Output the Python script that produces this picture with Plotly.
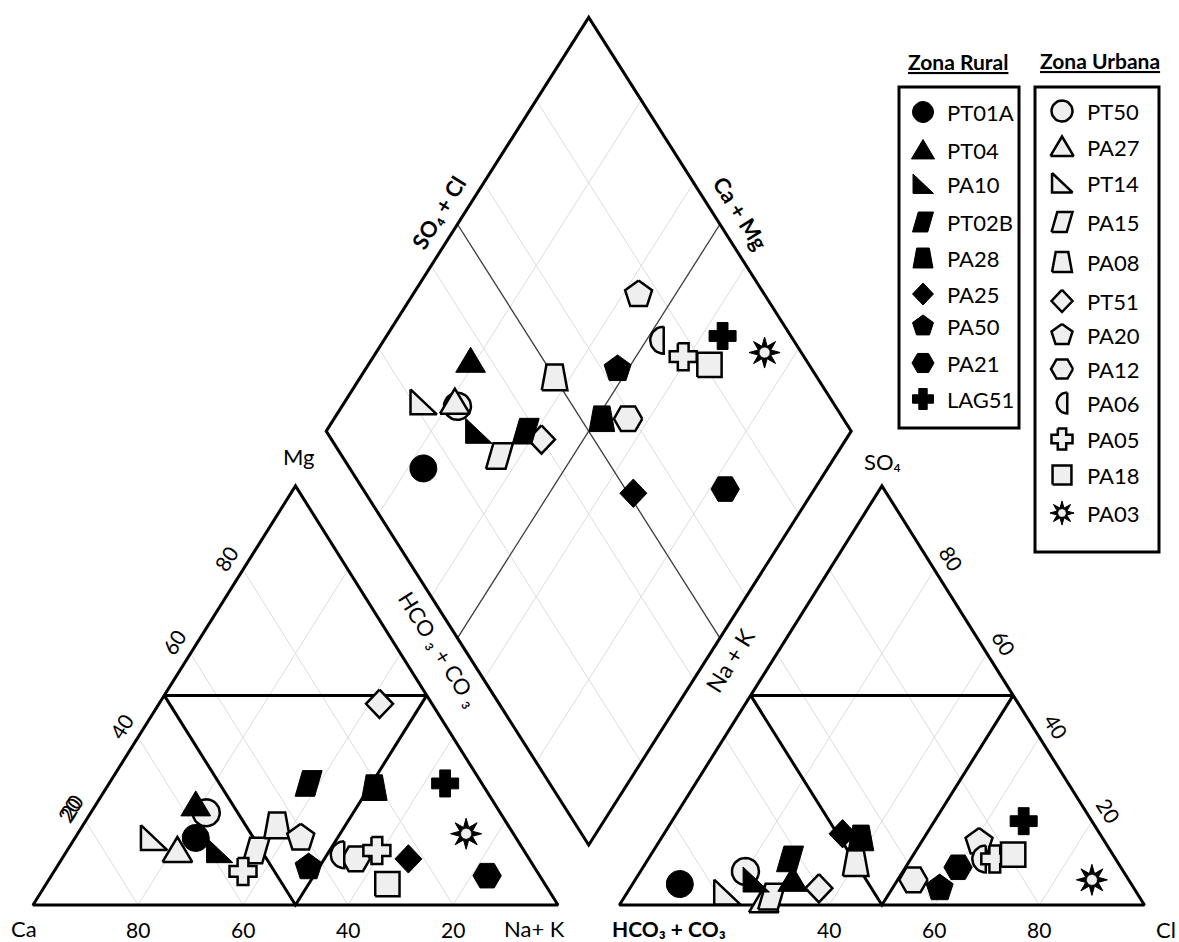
import math
import plotly.graph_objects as go

# ---------------- data (percent of meq/L) ----------------
samples = ["PT01A", "PT04", "PA10", "PT02B", "PA28", "PA25", "PA50", "PA21", "LAG51",
           "PT50", "PA27", "PT14", "PA15", "PA08", "PT51", "PA20", "PA12", "PA06", "PA05", "PA18", "PA03"]
zone = ["Rural"] * 9 + ["Urbana"] * 12
ca = [61, 57, 58, 33, 21, 23, 43, 10, 7, 56, 66, 69, 51, 44, 10, 41, 33, 36, 28, 30, 9]
mg = [16, 24, 13, 29, 28, 11, 9, 7, 29, 22, 13, 16, 13, 19, 48, 16, 11, 12, 13, 5, 17]
nak = [23, 19, 29, 38, 51, 66, 48, 83, 64, 22, 21, 15, 36, 37, 42, 43, 56, 52, 59, 65, 74]
hco3 = [86, 64, 71, 62, 46, 49, 37, 31, 13, 72, 72, 78, 70, 50, 60, 24, 41, 26, 23, 19, 7]
so4 = [5, 6, 6, 11, 16, 17, 4, 9, 20, 8, 1, 3, 2, 10, 4, 15, 6, 11, 11, 12, 6]
cl = [9, 30, 23, 27, 38, 34, 59, 60, 67, 20, 27, 19, 28, 40, 36, 61, 53, 63, 66, 69, 87]
# extra cation point plotted in the original (second PA05 cross)
extra_name = ["PA05"]
extra_ca = [56]
extra_mg = [8]
extra_nak = [36]

ticks = [20, 40, 60, 80]
cl_ticks = [40, 60, 80]

# ---------------- styles ----------------
shape_of = {"PT01A": "circle", "PT04": "triangle", "PA10": "rtri", "PT02B": "para", "PA28": "trap",
            "PA25": "diamond", "PA50": "pentagon", "PA21": "hexagon", "LAG51": "cross",
            "PT50": "circle", "PA27": "triangle", "PT14": "rtri", "PA15": "para", "PA08": "trap",
            "PT51": "diamond", "PA20": "pentagon", "PA12": "hexagon", "PA06": "half", "PA05": "cross",
            "PA18": "square", "PA03": "star"}
FONT = "Lato, Carlito, 'Liberation Sans', sans-serif"
GRID = "#dcdcdc"
URB_FILL = "#efefef"

# ---------------- geometry ----------------
W, HF = 1179, 942
SX, SY = 5.25, 4.84          # pixels per unit
X0PX, Y0PX = 33.0, 905.0
TH = 100 * math.sqrt(3) / 2
GAP = 11.7
RX0 = 100 + GAP
DX, DY, DW, DH = 100 + GAP / 2, 97.9, 50.0, 85.5


def px2u(px, py):
    return (px - X0PX) / SX, (Y0PX - py) / SY


def off(pt, dxp, dyp):
    return pt[0] + dxp / SX, pt[1] - dyp / SY


def tri(x0, right, top):
    return x0 + 100 * (right + top / 2), TH * top


def cation_xy(c, m, n):
    s = c + m + n
    return tri(0, n / s, m / s)


def anion_xy(h, s4, c_):
    t = h + s4 + c_
    return tri(RX0, c_ / t, s4 / t)


def dia(ss, cc):
    return DX + DW * (ss - cc), DY - DH + DH * (ss + cc)


def diamond_xy(c, m, n, h, s4, c_):
    cc = (c + m) / (c + m + n)
    ss = (s4 + c_) / (h + s4 + c_)
    return dia(ss, cc)


fig = go.Figure()


def add_path(segments, color, width):
    xs, ys = [], []
    for seg in segments:
        for (x, y) in seg:
            xs.append(x)
            ys.append(y)
        xs.append(None)
        ys.append(None)
    fig.add_trace(go.Scatter(x=xs, y=ys, mode="lines", line=dict(color=color, width=width),
                             hoverinfo="skip", showlegend=False))


# ---- grid lines ----
grid = []
for x0 in (0, RX0):
    for p in ticks:
        f = p / 100
        grid.append([tri(x0, f, 0), tri(x0, f, 1 - f)])
        grid.append([tri(x0, 1 - f, 0), tri(x0, 0, 1 - f)])
for p in ticks:
    f = p / 100
    grid.append([dia(f, 0), dia(f, 1)])
    grid.append([dia(0, f), dia(1, f)])
add_path(grid, GRID, 1)

# diamond 50 % lines
add_path([[dia(0.5, 0), dia(0.5, 1)], [dia(0, 0.5), dia(1, 0.5)]], "#3c3c3c", 1.3)

# ---- outlines ----
outl = []
inner = []
for x0 in (0, RX0):
    a, b, c = tri(x0, 0, 0), tri(x0, 1, 0), tri(x0, 0, 1)
    outl.append([a, b, c, a, b])
    m1, m2, m3 = tri(x0, 0, 0.5), tri(x0, 0.5, 0.5), tri(x0, 0.5, 0)
    inner.append([m1, m2, m3, m1, m2])
L, T, R, B = dia(0, 1), dia(1, 1), dia(1, 0), dia(0, 0)
outl.append([L, T, R, B, L, T])
add_path(inner, "black", 3)
add_path(outl, "black", 3)


# ---------------- marker shapes ----------------
def ngon(n, r=1.0, rot=90.0):
    return [(r * math.cos(math.radians(rot + 360 * k / n)), r * math.sin(math.radians(rot + 360 * k / n)))
            for k in range(n)]


SHAPES = {
    "circle": ngon(40, 1.0),
    "triangle": [(-1.1, -0.85), (1.1, -0.85), (0, 1.0)],
    "rtri": [(-0.95, 0.95), (-0.95, -0.9), (1.0, -0.9)],
    "para": [(-1.0, -0.95), (0.45, -0.95), (1.0, 0.95), (-0.45, 0.95)],
    "trap": [(-0.95, -0.95), (0.95, -0.95), (0.6, 0.95), (-0.6, 0.95)],
    "diamond": [(0, 1.05), (1.0, 0), (0, -1.05), (-1.0, 0)],
    "pentagon": ngon(5, 1.05, 90),
    "hexagon": ngon(6, 1.05, 0),
    "cross": [(-0.4, 1), (0.4, 1), (0.4, 0.4), (1, 0.4), (1, -0.4), (0.4, -0.4), (0.4, -1), (-0.4, -1),
              (-0.4, -0.4), (-1, -0.4), (-1, 0.4), (-0.4, 0.4)],
    "square": [(-0.9, -0.9), (0.9, -0.9), (0.9, 0.9), (-0.9, 0.9)],
    "half": [(0.5 + math.cos(math.radians(a)), math.sin(math.radians(a))) for a in range(90, 271, 10)],
    "star": [((1.15 if k % 2 == 0 else 0.5) * math.cos(math.radians(90 + 22.5 * k)),
              (1.15 if k % 2 == 0 else 0.5) * math.sin(math.radians(90 + 22.5 * k))) for k in range(16)],
}


def add_polys(centers_r, shape, fill, lw):
    xs, ys = [], []
    pts = SHAPES[shape]
    for (cx, cy, rpx) in centers_r:
        for (a, b) in pts + [pts[0]]:
            xs.append(cx + a * rpx / SX)
            ys.append(cy + b * rpx / SY)
        xs.append(None)
        ys.append(None)
    fig.add_trace(go.Scatter(x=xs, y=ys, mode="lines", fill="toself", fillcolor=fill,
                             line=dict(color="black", width=lw), hoverinfo="skip", showlegend=False))


R_PLOT = 13.5
R_LEG = 10.5
RUR_MX, RUR_TX = 923, 945
RUR_Y = [112, 150, 184, 222, 258, 294, 326, 363, 399]
URB_MX, URB_TX = 1062, 1085
URB_Y = [111, 147, 183, 222, 262, 301, 335, 369, 403, 439, 475, 513]

leg_pos = {}
ri = ui = 0
for i, nm in enumerate(samples):
    if zone[i] == "Rural":
        leg_pos[nm] = (RUR_MX, RUR_Y[ri], RUR_TX)
        ri += 1
    else:
        leg_pos[nm] = (URB_MX, URB_Y[ui], URB_TX)
        ui += 1

order = [i for i in range(len(samples)) if zone[i] == "Urbana"] + \
        [i for i in range(len(samples)) if zone[i] == "Rural"]
for i in order:
    nm = samples[i]
    shp = shape_of[nm]
    rural = zone[i] == "Rural"
    pts = [cation_xy(ca[i], mg[i], nak[i]), anion_xy(hco3[i], so4[i], cl[i]),
           diamond_xy(ca[i], mg[i], nak[i], hco3[i], so4[i], cl[i])]
    for j, en in enumerate(extra_name):
        if en == nm:
            pts.append(cation_xy(extra_ca[j], extra_mg[j], extra_nak[j]))
    cen = [(p[0], p[1], R_PLOT) for p in pts]
    lx, ly, _ = leg_pos[nm]
    lp = px2u(lx, ly)
    cen.append((lp[0], lp[1], R_LEG))
    if shp == "star":
        add_polys(cen, "star", "black", 1)
        add_polys([(c[0], c[1], c[2] * 0.4) for c in cen], "circle", URB_FILL, 0.5)
    elif rural:
        add_polys(cen, shp, "black", 1)
    else:
        add_polys(cen, shp, URB_FILL, 2.5)


# ---------------- text ----------------
def ann(text, pt, size=20, angle=0, xanchor="center"):
    fig.add_annotation(x=pt[0], y=pt[1], xref="x", yref="y", text=text, showarrow=False,
                       textangle=angle, xanchor=xanchor, yanchor="middle",
                       font=dict(family=FONT, size=size, color="black"))


ann("Ca", off(tri(0, 0, 0), -9, 23), 22)
ann("Na+ K", off(tri(0, 1, 0), -24, 23), 22)
ann("Mg", off(tri(0, 0, 1), 3, -29), 22)
ann("<b>HCO₃ + CO₃</b>", off(tri(RX0, 0, 0), 50, 23), 21)
ann("Cl", off(tri(RX0, 1, 0), 22, 24), 22)
ann("SO₄", off(tri(RX0, 0, 1), 1, -24), 22)

for p in ticks:
    f = p / 100
    ann(str(100 - p), off(tri(0, f, 0), 0, 24), 21)
    ann(str(p), off(tri(0, 0, f), -17, -11), 21, -58)
    ann(str(p), off(tri(RX0, 1 - f, f), 17, -11), 21, 58)
# doubled "20" label of the original
ann(str(ticks[0]), off(tri(0, 0, ticks[0] / 100), -15, -14), 21, -58)
for p in cl_ticks:
    ann(str(p), off(tri(RX0, p / 100, 0), 0, 24), 21)

ann("<b>SO₄ + Cl</b>", off(dia(0.5, 1), -19, -12), 22, -58)
ann("<b>Ca + Mg</b>", off(dia(1, 0.5), 21, -11), 22, 58)
ann("HCO ₃ + CO ₃", off(dia(0, 0.5), -18, 11), 22, 58)
ann("Na + K", off(dia(0.5, 0), 10, 22), 23, -58)

# legend
ann("<b><u>Zona Rural</u></b>", px2u(958, 61), 21)
ann("<b><u>Zona Urbana</u></b>", px2u(1100, 60), 21)
for nm in samples:
    lx, ly, tx = leg_pos[nm]
    ann(nm, px2u(tx, ly), 22, 0, "left")

for (x0, y0, x1, y1) in [(899, 87, 1019, 428), (1035, 87, 1159, 552)]:
    a = px2u(x0, y0)
    b = px2u(x1, y1)
    fig.add_shape(type="rect", xref="x", yref="y", x0=a[0], y0=a[1], x1=b[0], y1=b[1],
                  line=dict(color="black", width=3), fillcolor="rgba(0,0,0,0)")

xr = [(0 - X0PX) / SX, (W - X0PX) / SX]
yr = [(Y0PX - HF) / SY, Y0PX / SY]
fig.update_layout(width=W, height=HF, margin=dict(l=0, r=0, t=0, b=0),
                  paper_bgcolor="white", plot_bgcolor="white", showlegend=False,
                  xaxis=dict(range=xr, visible=False, fixedrange=True),
                  yaxis=dict(range=yr, visible=False, fixedrange=True))

fig.write_html("out.html", config={"displayModeBar": False},
               post_script="document.body.style.margin='0px';document.body.style.overflow='hidden';")
